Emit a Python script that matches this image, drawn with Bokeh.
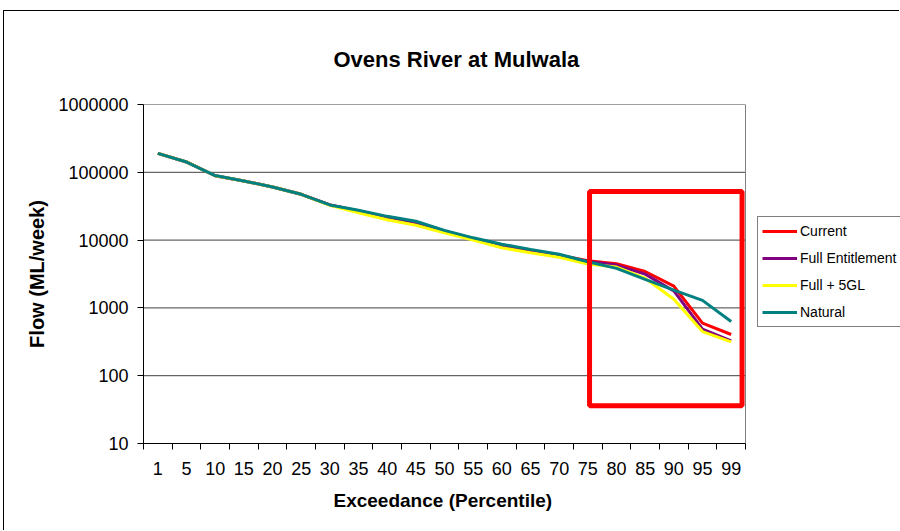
from bokeh.plotting import figure
from bokeh.models import (Range1d, FixedTicker, NumeralTickFormatter, Legend, LegendItem,
                          BoxAnnotation, Title)
from bokeh.embed import file_html
from bokeh.resources import INLINE

categories = ["1", "5", "10", "15", "20", "25", "30", "35", "40", "45", "50",
              "55", "60", "65", "70", "75", "80", "85", "90", "95", "99"]
current = [190000, 142000, 89000, 74500, 60800, 47400, 33000, 27000, 22000, 18500, 13600,
           10600, 8500, 7100, 6000, 4950, 4480, 3440, 2100, 597, 405]
full_entitlement = [190000, 142000, 89000, 74500, 60800, 47400, 33000, 26800, 21800, 18200, 13400,
                    10400, 8300, 6900, 5900, 4850, 4280, 3150, 1780, 486, 327]
full_5gl = [190000, 142000, 89000, 74500, 60800, 47400, 32500, 25300, 20000, 16600, 12800,
            10000, 7700, 6500, 5600, 4450, 4000, 2740, 1340, 447, 316]
natural = [190000, 141600, 89400, 74500, 60800, 47400, 33000, 27500, 22400, 19000, 13900,
           10800, 8700, 7300, 6200, 4800, 3830, 2640, 1830, 1290, 630]
series_names = ["Current", "Full Entitlement", "Full + 5GL", "Natural"]
series_colors = ["#FF0000", "#800080", "#FFFF00", "#008080"]
y_ticks = [10, 100, 1000, 10000, 100000, 1000000]

FONT = "Liberation Sans"
n = len(categories)
xs = [i + 0.5 for i in range(n)]

# The frame extends to the right edge so the legend (outside the plot area) stays visible;
# the plot area itself spans categories 0..n (602 px of the 757 px frame).
x_end = n * 757 / 602

p = figure(width=896, height=520, x_range=Range1d(0, x_end), y_range=Range1d(10, 1000000),
           y_axis_type="log", output_backend="svg", toolbar_location=None,
           min_border_left=139, min_border_right=0, min_border_top=92, min_border_bottom=88)
p.styles = {"margin-left": "3px", "margin-top": "10px",
            "border-left": "1px solid black", "border-top": "1px solid black"}
p.outline_line_color = None
p.background_fill_color = "white"
p.border_fill_color = "white"

# X axis (the default one, below)
xa = p.below[0]
xa.bounds = (0, n)
xa.ticker = FixedTicker(ticks=xs, minor_ticks=list(range(n + 1)))
xa.major_label_overrides = {x: c for x, c in zip(xs, categories)}
xa.major_tick_out = 0
xa.major_tick_in = 0
xa.minor_tick_out = 6
xa.minor_tick_in = 0
xa.minor_tick_line_color = "black"
xa.axis_line_color = "black"
xa.major_label_text_font = FONT
xa.major_label_text_font_size = "18px"
xa.major_label_text_color = "black"
xa.major_label_standoff = 12

xlabel = Title(text="Exceedance (Percentile)", align="left", offset=190,
               text_font=FONT, text_font_size="19px", text_font_style="bold",
               text_color="black", standoff=20)
p.add_layout(xlabel, "below")

# Title
p.title.text = "Ovens River at Mulwala"
p.title.align = "left"
p.title.offset = 190
p.title.text_font = FONT
p.title.text_font_size = "22px"
p.title.text_font_style = "bold"
p.title.text_color = "black"
p.title.standoff = 66

# Y axis
ya = p.left[0]
ya.ticker = FixedTicker(ticks=y_ticks, minor_ticks=[])
ya.formatter = NumeralTickFormatter(format="0")
ya.major_tick_out = 6
ya.major_tick_in = 0
ya.minor_tick_out = 0
ya.minor_tick_in = 0
ya.major_tick_line_color = "black"
ya.axis_line_color = "black"
ya.major_label_text_font = FONT
ya.major_label_text_font_size = "18px"
ya.major_label_text_color = "black"
ya.major_label_standoff = 9
ya.axis_label = "Flow (ML/week)"
ya.axis_label_text_font = FONT
ya.axis_label_text_font_size = "20px"
ya.axis_label_text_font_style = "bold"
ya.axis_label_text_color = "black"
ya.axis_label_standoff = 7

p.xgrid.visible = False
p.ygrid.visible = False

# Gridlines and plot-area right border, limited to the plot area
p.segment(x0=[0] * len(y_ticks), x1=[n] * len(y_ticks), y0=y_ticks, y1=y_ticks,
          line_color="#404040", line_width=1)
p.segment(x0=[n], x1=[n], y0=[y_ticks[0]], y1=[y_ticks[-1]], line_color="#808080", line_width=1)

renderers = []
for vals, color in zip([current, full_entitlement, full_5gl, natural], series_colors):
    r = p.line(x=xs, y=vals, line_color=color, line_width=3)
    renderers.append(r)

# Highlight box
p.add_layout(BoxAnnotation(left=15.56, right=20.88, bottom=36, top=52000,
                           fill_alpha=0, line_color="#FF0000", line_alpha=1, line_width=5))

legend = Legend(items=[LegendItem(label=nm, renderers=[r]) for nm, r in zip(series_names, renderers)],
                location=(614, 116))
legend.label_text_font = FONT
legend.label_text_font_size = "14px"
legend.label_text_color = "black"
legend.glyph_width = 35
legend.glyph_height = 20
legend.label_height = 20
legend.label_standoff = 3
legend.spacing = 7
legend.padding = 4
legend.margin = 0
legend.border_line_color = "black"
legend.border_line_width = 1
legend.background_fill_alpha = 1
p.add_layout(legend)

open("out.html", "w").write(file_html(p, INLINE))
